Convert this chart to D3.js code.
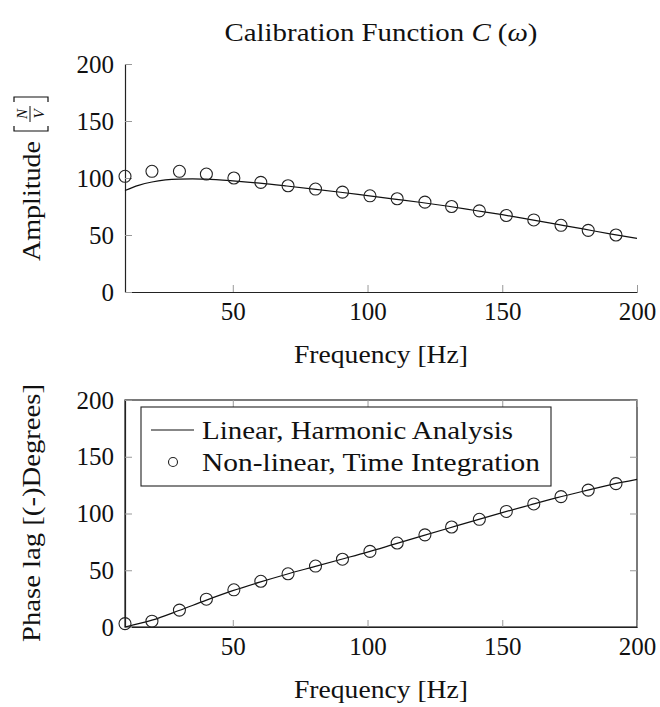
<!DOCTYPE html>
<html>
<head>
<meta charset="utf-8">
<script src="https://cdn.jsdelivr.net/npm/d3@7"></script>
<style>
  body { margin: 0; background: #fff; }
</style>
</head>
<body>
<div id="container"></div>
<script>
let w = 660;
let h = 707;

// time integration runs (circles)
let simFreq = [10, 20, 30.2, 40.2, 50.4, 60.4, 70.5, 80.7, 90.7, 100.9, 111, 121.3, 131.2, 141.5, 151.5, 161.7, 171.8, 181.9, 192.2];
let simAmplitude = [101.5, 105.9, 105.9, 103.5, 100, 96.2, 93.2, 90.3, 87.6, 84.4, 81.8, 78.8, 75, 71.2, 67.1, 63.2, 58.5, 54.1, 50];
let simPhase = [3, 5.1, 14.9, 24.5, 32.8, 40.3, 46.9, 53.7, 59.7, 66.6, 74, 81.2, 88.1, 94.9, 101.8, 108.4, 114.9, 120.6, 126.3];

// harmonic analysis (solid line)
let linAmpFreq = [10, 15, 20, 25, 30, 35, 40, 50, 60, 70, 80, 90, 100, 110, 120, 130, 140, 150, 160, 170, 180, 190, 200];
let linAmplitude = [89, 93.5, 96.5, 98.3, 99.1, 99.3, 99, 97.5, 95.5, 93, 90.3, 87.5, 84.5, 81.5, 78.5, 75.2, 71.5, 67.8, 63.7, 59.5, 55.3, 51, 47];
let linPhaseFreq = [10, 20, 30, 40, 50, 60, 70, 80, 90, 100, 110, 120, 130, 140, 150, 160, 170, 180, 190, 200];
let linPhase = [0, 6, 14.5, 23.5, 32, 39.5, 46.5, 53, 59.5, 66, 73, 80, 87, 94, 100.8, 107.3, 113.7, 119.6, 125.2, 130];

let xTicks = [50, 100, 150, 200];
let yTicks = [0, 50, 100, 150, 200];
let legendLabels = ["Linear, Harmonic Analysis", "Non-linear, Time Integration"];

// pick the first serif face that is really installed
let ctx = document.createElement("canvas").getContext("2d");
function hasFont(name) {
  let probe = "mmmwwwlliiABCDEF0123";
  ctx.font = "40px monospace";
  let a = ctx.measureText(probe).width;
  ctx.font = "40px '" + name + "', monospace";
  let b = ctx.measureText(probe).width;
  return a != b;
}
let serifFont = ["Liberation Serif", "LiberationSerif", "DejaVu Serif", "DejaVuSerif", "Tinos",
                 "Times New Roman", "Noto Serif", "FreeSerif", "Nimbus Roman", "Times"]
  .find(hasFont) || "Noto Sans";
let fontFamily = "'" + serifFont + "', serif";

let viz = d3.select("#container")
  .append("svg")
    .attr("width", w)
    .attr("height", h)
    .style("background-color", "white")
    .style("font-family", fontFamily)
;

// stretch a text to the width measured on the reference
function fit(sel, target) {
  let len = sel.node().getComputedTextLength();
  if (Math.abs(len - target) > 2) {
    sel.attr("textLength", target).attr("lengthAdjust", "spacingAndGlyphs");
  }
}

let xScale = d3.scaleLinear().domain([10, 200]).range([125, 637]);

function drawPanel(top, bottom, boxed, freq, values, lineFreq, lineValues) {
  let yScale = d3.scaleLinear().domain([0, 200]).range([bottom, top]);
  let g = viz.append("g");

  if (boxed) {
    g.append("rect")
      .attr("x", 125).attr("y", top)
      .attr("width", 637 - 125).attr("height", bottom - top)
      .attr("fill", "none").attr("stroke", "#222").attr("stroke-width", 1.2);
    let topAxis = g.append("g").attr("transform", "translate(0," + top + ")")
      .call(d3.axisTop(xScale).tickValues(xTicks).tickSize(-7).tickSizeOuter(0).tickFormat(""));
    let rightAxis = g.append("g").attr("transform", "translate(637,0)")
      .call(d3.axisRight(yScale).tickValues(yTicks).tickSize(-7).tickSizeOuter(0).tickFormat(""));
    [topAxis, rightAxis].forEach(function(a) { a.select(".domain").remove(); });
  }

  let xAxisGroup = g.append("g")
    .attr("class", "xaxis")
    .attr("transform", "translate(0," + bottom + ")")
    .call(d3.axisBottom(xScale).tickValues(xTicks).tickSize(-7).tickPadding(10).tickSizeOuter(0));
  let yAxisGroup = g.append("g")
    .attr("class", "yaxis")
    .attr("transform", "translate(125,0)")
    .call(d3.axisLeft(yScale).tickValues(yTicks).tickSize(-7).tickPadding(11).tickSizeOuter(0));

  g.selectAll(".xaxis, .yaxis").attr("font-family", null).attr("font-size", null);
  g.selectAll(".domain").attr("stroke", "#222").attr("stroke-width", 1.2);
  g.selectAll(".tick line").attr("stroke", "#999").attr("stroke-width", 1);
  g.selectAll(".tick text")
    .style("font-family", fontFamily)
    .style("font-size", "25px")
    .attr("fill", "#111");

  let line = d3.line()
    .x(function(d) { return xScale(d[0]); })
    .y(function(d) { return yScale(d[1]); })
    .curve(d3.curveMonotoneX);

  g.append("path")
    .datum(d3.zip(lineFreq, lineValues))
    .attr("d", line)
    .attr("fill", "none")
    .attr("stroke", "#111")
    .attr("stroke-width", 1.2);

  g.selectAll(".pt").data(d3.zip(freq, values)).enter()
    .append("circle")
      .attr("class", "pt")
      .attr("cx", function(d) { return xScale(d[0]); })
      .attr("cy", function(d) { return yScale(d[1]); })
      .attr("r", 6)
      .attr("fill", "none")
      .attr("stroke", "#222")
      .attr("stroke-width", 1.1);

  // x label
  let xl = g.append("text")
    .attr("x", 381).attr("y", bottom + 71)
    .attr("text-anchor", "middle")
    .attr("fill", "#111")
    .style("font-size", "26px")
    .text("Frequency [Hz]");
  fit(xl, 174);

  return g;
}

drawPanel(64, 292, false, simFreq, simAmplitude, linAmpFreq, linAmplitude);
drawPanel(400, 627, true, simFreq, simPhase, linPhaseFreq, linPhase);

// title
let title = viz.append("text")
  .attr("x", 381).attr("y", 41)
  .attr("text-anchor", "middle")
  .attr("fill", "#111")
  .style("font-size", "26px");
title.append("tspan").text("Calibration Function ");
title.append("tspan").style("font-style", "italic").text("C");
title.append("tspan").text(" (");
title.append("tspan").style("font-style", "italic").text("ω");
title.append("tspan").text(")");
fit(title, 313);

// y label top: Amplitude [N/V]
let ampLabel = viz.append("g").attr("fill", "#111");
let ampText = ampLabel.append("text")
  .attr("x", 0).attr("y", 0)
  .style("font-size", "26px")
  .text("Amplitude");
fit(ampText, 120);
let A = 120;
ampLabel.append("path")
  .attr("d", "M" + (A + 15) + ",-26 H" + (A + 10) + " V8 H" + (A + 15))
  .attr("fill", "none").attr("stroke", "#111").attr("stroke-width", 1.2);
ampLabel.append("line")
  .attr("x1", A + 19).attr("x2", A + 35).attr("y1", -10).attr("y2", -10)
  .attr("stroke", "#111").attr("stroke-width", 1);
ampLabel.append("text")
  .attr("x", A + 27).attr("y", -13)
  .attr("text-anchor", "middle")
  .style("font-size", "15px").style("font-style", "italic")
  .text("N");
ampLabel.append("text")
  .attr("x", A + 27).attr("y", 4)
  .attr("text-anchor", "middle")
  .style("font-size", "15px").style("font-style", "italic")
  .text("V");
ampLabel.append("path")
  .attr("d", "M" + (A + 39) + ",-26 H" + (A + 44) + " V8 H" + (A + 39))
  .attr("fill", "none").attr("stroke", "#111").attr("stroke-width", 1.2);
let T = A + 44;
ampLabel.attr("transform", "translate(40,179) rotate(-90) translate(" + (-T / 2) + ",0)");

// y label bottom
let phaseLabel = viz.append("text")
  .attr("transform", "translate(40,513) rotate(-90)")
  .attr("text-anchor", "middle")
  .attr("fill", "#111")
  .style("font-size", "26px")
  .text("Phase lag [(-)Degrees]");
fit(phaseLabel, 258);

// legend
let legend = viz.append("g");
legend.append("rect")
  .attr("x", 141).attr("y", 407)
  .attr("width", 551 - 141).attr("height", 486 - 407)
  .attr("fill", "white").attr("stroke", "#222").attr("stroke-width", 1.1);
legend.append("line")
  .attr("x1", 151).attr("x2", 194).attr("y1", 430).attr("y2", 430)
  .attr("stroke", "#111").attr("stroke-width", 1.2);
legend.append("circle")
  .attr("cx", 173).attr("cy", 462).attr("r", 4.5)
  .attr("fill", "none").attr("stroke", "#222").attr("stroke-width", 1.1);
let lt1 = legend.append("text").attr("x", 202).attr("y", 439).attr("fill", "#111").style("font-size", "26px").text(legendLabels[0]);
let lt2 = legend.append("text").attr("x", 202).attr("y", 471).attr("fill", "#111").style("font-size", "26px").text(legendLabels[1]);
fit(lt1, 311);
fit(lt2, 338);
</script>
</body>
</html>
